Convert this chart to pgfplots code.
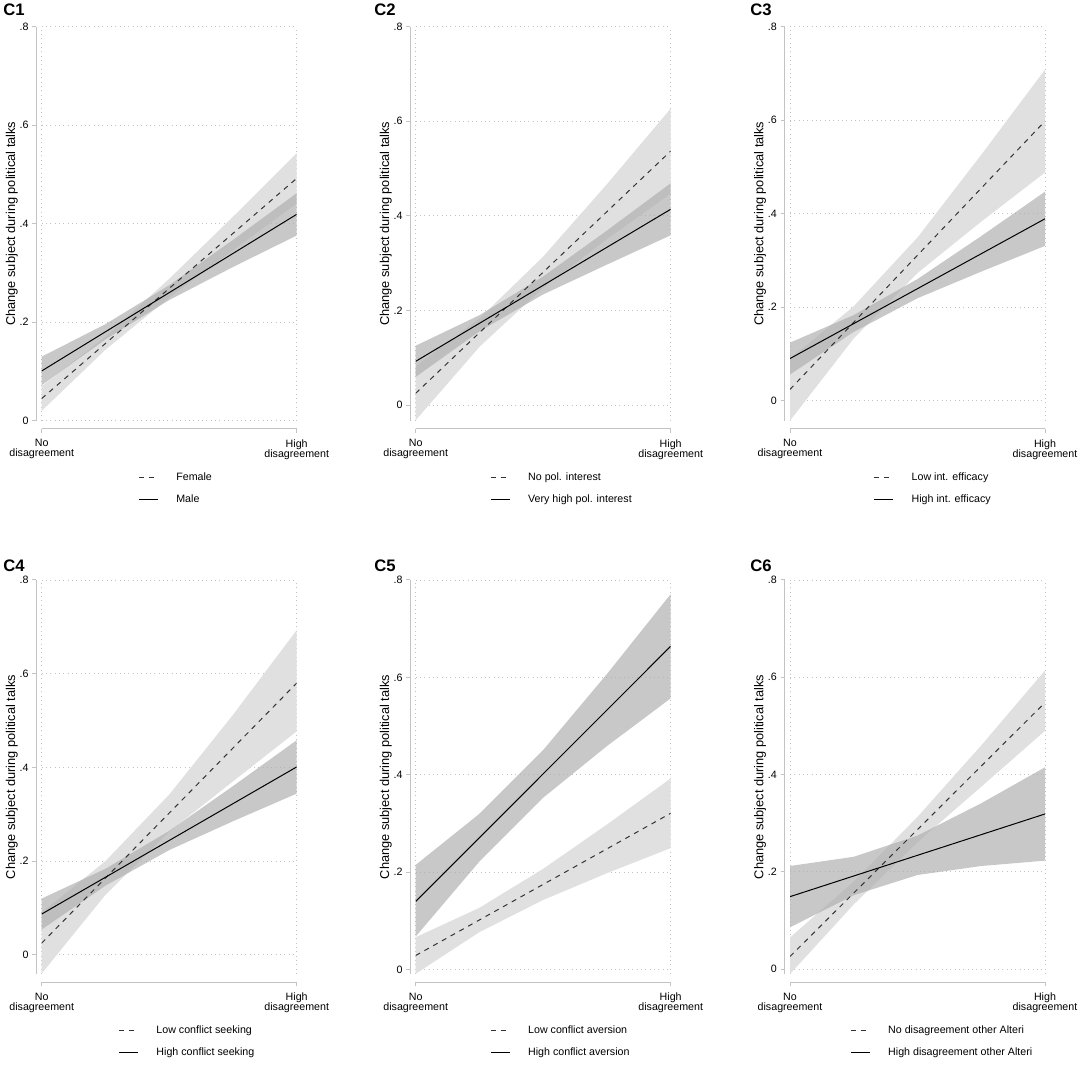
\documentclass[border=0pt]{standalone}
\usepackage{fontspec}
\setmainfont{Liberation Sans}
\usepackage{pgfplots}
\pgfplotsset{compat=1.18}
\definecolor{axisgray}{RGB}{195,195,195}
\definecolor{gridgray}{RGB}{195,195,195}
\definecolor{lightband}{RGB}{224,224,224}
\definecolor{darkband}{RGB}{174,174,174}
\pgfplotsset{
 panel/.style={
   scale only axis, width=191.25pt, height=295.5pt,
   xmin=0, xmax=1, ymax=0.8, enlargelimits=false,
   axis x line*=bottom, axis y line*=left,
   axis x line shift=6.2pt, axis y line shift=4pt,
   axis line style={-, draw=axisgray, line width=0.75pt},
   xtick={0,1}, xticklabels={{No\\disagreement},{High\\disagreement}},
   ytick={0,0.2,0.4,0.6,0.8}, yticklabels={0,.2,.4,.6,.8},
   tick align=outside, major tick length=3pt,
   tick style={draw=axisgray, line width=0.75pt},
   grid=major,
   major grid style={draw=gridgray, line width=0.6pt, dash pattern=on 0.75pt off 2.5pt},
   xticklabel style={align=center, font=\fontsize{8}{7.5}\selectfont, inner sep=1pt, yshift=-3.75pt},
   yticklabel style={font=\fontsize{8}{9.6}\selectfont, inner sep=1.2pt, xshift=-1.5pt},
   ylabel={Change subject during political talks},
   ylabel style={at={(axis description cs:-0.1176,0.5)}, anchor=center, font=\fontsize{9.6}{11}\selectfont},
   legend image code/.code={\draw[##1] (0pt,0pt) -- (14.25pt,0pt);},
   legend cell align=left,
   legend style={draw=none, fill=none, inner sep=0pt, row sep=9pt,
     font=\fontsize{8}{9.6}\selectfont,
     nodes={inner sep=0pt, text height=6pt, text depth=1.5pt},
     /tikz/every odd column/.append style={column sep=13.5pt},
     anchor=north west},
 },
 lband/.style={fill=lightband, draw=none, forget plot},
 dband/.style={fill=darkband, fill opacity=0.68, draw=none, forget plot},
 dline/.style={black!80, line width=0.75pt, dash pattern=on 3.75pt off 3.75pt},
 sline/.style={black, line width=0.75pt},
}
\begin{document}
\begin{tikzpicture}
\useasboundingbox (0,0) rectangle (813pt,807.75pt);
% ---------- C1
\begin{axis}[panel, at={(31.275pt,787.725pt)}, anchor=north west, ymin=0,
  legend style={at={(axis description cs:0.378,-0.130)}}]
\addplot[lband] coordinates {(0,0.070) (0.25,0.170) (0.5,0.288) (0.75,0.414) (1,0.543)
  (1,0.441) (0.75,0.346) (0.5,0.250) (0.25,0.144) (0,0.020)} -- cycle;
\addplot[dband] coordinates {(0,0.130) (0.25,0.196) (0.5,0.275) (0.75,0.367) (1,0.462)
  (1,0.376) (0.75,0.312) (0.5,0.245) (0.25,0.165) (0,0.072)} -- cycle;
\addplot[dline] coordinates {(0,0.045) (1,0.492)};
\addlegendentry{Female}
\addplot[sline] coordinates {(0,0.101) (1,0.419)};
\addlegendentry{Male}
\end{axis}
% ---------- C2
\begin{axis}[panel, at={(311.775pt,787.725pt)}, anchor=north west, ymin=-0.033,
  legend style={at={(axis description cs:0.291,-0.130)}}]
\addplot[lband] coordinates {(0,0.082) (0.25,0.183) (0.5,0.314) (0.75,0.467) (1,0.627)
  (1,0.447) (0.75,0.351) (0.5,0.248) (0.25,0.123) (0,-0.032)} -- cycle;
\addplot[dband] coordinates {(0,0.1255) (0.25,0.190) (0.5,0.272) (0.75,0.369) (1,0.469)
  (1,0.359) (0.75,0.297) (0.5,0.234) (0.25,0.156) (0,0.0595)} -- cycle;
\addplot[dline] coordinates {(0,0.025) (1,0.537)};
\addlegendentry{No pol. interest}
\addplot[sline] coordinates {(0,0.0925) (1,0.414)};
\addlegendentry{Very high pol. interest}
\end{axis}
% ---------- C3
\begin{axis}[panel, at={(592.5pt,787.725pt)}, anchor=north west, ymin=-0.043,
  legend style={at={(axis description cs:0.327,-0.130)}}]
\addplot[lband] coordinates {(0,0.089) (0.25,0.202) (0.5,0.349) (0.75,0.526) (1,0.708)
  (1,0.488) (0.75,0.383) (0.5,0.273) (0.25,0.133) (0,-0.043)} -- cycle;
\addplot[dband] coordinates {(0,0.124) (0.25,0.183) (0.5,0.260) (0.75,0.352) (1,0.447)
  (1,0.331) (0.75,0.276) (0.5,0.219) (0.25,0.147) (0,0.056)} -- cycle;
\addplot[dline] coordinates {(0,0.024) (1,0.598)};
\addlegendentry{Low int. efficacy}
\addplot[sline] coordinates {(0,0.090) (1,0.389)};
\addlegendentry{High int. efficacy}
\end{axis}
% ---------- C4
\begin{axis}[panel, at={(31.275pt,372.75pt)}, anchor=north west, ymin=-0.041,
  legend style={at={(axis description cs:0.300,-0.130)}}]
\addplot[lband] coordinates {(0,0.090) (0.25,0.200) (0.5,0.342) (0.75,0.512) (1,0.693)
  (1,0.477) (0.75,0.370) (0.5,0.263) (0.25,0.128) (0,-0.040)} -- cycle;
\addplot[dband] coordinates {(0,0.120) (0.25,0.1835) (0.5,0.2645) (0.75,0.360) (1,0.458)
  (1,0.344) (0.75,0.285) (0.5,0.2235) (0.25,0.1475) (0,0.054)} -- cycle;
\addplot[dline] coordinates {(0,0.025) (1,0.580)};
\addlegendentry{Low conflict seeking}
\addplot[sline] coordinates {(0,0.087) (1,0.401)};
\addlegendentry{High conflict seeking}
\end{axis}
% ---------- C5
\begin{axis}[panel, at={(311.775pt,372.75pt)}, anchor=north west, ymin=-0.009,
  legend style={at={(axis description cs:0.291,-0.130)}}]
\addplot[lband] coordinates {(0,0.0665) (0.25,0.127) (0.5,0.207) (0.75,0.298) (1,0.3925)
  (1,0.2495) (0.75,0.198) (0.5,0.143) (0.25,0.077) (0,-0.0085)} -- cycle;
\addplot[dband] coordinates {(0,0.215) (0.25,0.320) (0.5,0.451) (0.75,0.607) (1,0.771)
  (1,0.557) (0.75,0.459) (0.5,0.353) (0.25,0.222) (0,0.068)} -- cycle;
\addplot[dline] coordinates {(0,0.029) (1,0.321)};
\addlegendentry{Low conflict aversion}
\addplot[sline] coordinates {(0,0.140) (1,0.664)};
\addlegendentry{High conflict aversion}
\end{axis}
% ---------- C6
\begin{axis}[panel, at={(592.5pt,372.75pt)}, anchor=north west, ymin=-0.010,
  legend style={at={(axis description cs:0.235,-0.130)}}]
\addplot[lband] coordinates {(0,0.065) (0.25,0.180) (0.5,0.313) (0.75,0.460) (1,0.614)
  (1,0.490) (0.75,0.375) (0.5,0.261) (0.25,0.133) (0,-0.010)} -- cycle;
\addplot[dband] coordinates {(0,0.212) (0.25,0.231) (0.5,0.2745) (0.75,0.341) (1,0.415)
  (1,0.223) (0.75,0.212) (0.5,0.1935) (0.25,0.152) (0,0.086)} -- cycle;
\addplot[dline] coordinates {(0,0.026) (1,0.548)};
\addlegendentry{No disagreement other Alteri}
\addplot[sline] coordinates {(0,0.149) (1,0.319)};
\addlegendentry{High disagreement other Alteri}
\end{axis}
% ---------- panel titles
\begin{scope}[every node/.style={anchor=base west, inner sep=0pt, font=\bfseries\fontsize{12.5}{15}\selectfont}]
\node at (2.25pt,795.75pt) {C1};
\node at (280.5pt,795.75pt) {C2};
\node at (562.5pt,795.75pt) {C3};
\node at (2.25pt,378.75pt) {C4};
\node at (280.5pt,378.75pt) {C5};
\node at (562.5pt,378.75pt) {C6};
\end{scope}
\end{tikzpicture}
\end{document}
